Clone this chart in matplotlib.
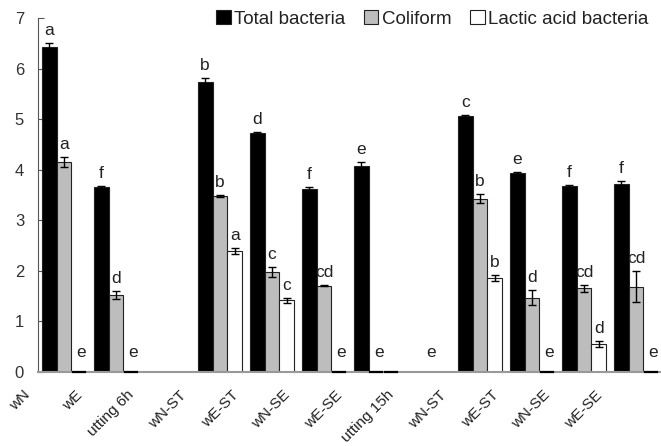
import numpy as np
import matplotlib.pyplot as plt
from matplotlib.patches import Patch

plt.rcParams["font.family"] = ["Liberation Sans", "DejaVu Sans"]

# category labels (cut off on the left in the source figure)
groups = ["wN", "wE", "utting 6h", "wN-ST", "wE-ST", "wN-SE", "wE-SE",
          "utting 15h", "wN-ST", "wE-ST", "wN-SE", "wE-SE"]

nan = np.nan
total = [6.43, 3.65, nan, 5.73, 4.73, 3.61, 4.07, nan, 5.07, 3.93, 3.67, 3.72]
total_err = [0.08, 0.02, 0, 0.09, 0.02, 0.05, 0.08, 0, 0.02, 0.02, 0.03, 0.05]
total_sig = ["a", "f", "", "b", "d", "f", "e", "", "c", "e", "f", "f"]

coliform = [4.15, 1.53, nan, 3.48, 1.98, 1.71, 0, nan, 3.43, 1.47, 1.66, 1.69]
coliform_err = [0.1, 0.08, 0, 0.02, 0.1, 0.01, 0, 0, 0.08, 0.15, 0.07, 0.3]
coliform_sig = ["a", "d", "", "b", "c", "cd", "e", "e", "b", "d", "cd", "cd"]

lab = [0, 0, nan, 2.4, 1.42, 0, 0, nan, 1.86, 0, 0.55, 0]
lab_err = [0, 0, 0, 0.06, 0.05, 0, 0, 0, 0.06, 0, 0.06, 0]
lab_sig = ["e", "e", "", "a", "c", "e", "", "", "b", "e", "d", "e"]

series = [
    ("Total bacteria", total, total_err, total_sig, "black"),
    ("Coliform", coliform, coliform_err, coliform_sig, "#bdbdbd"),
    ("Lactic acid bacteria", lab, lab_err, lab_sig, "white"),
]

fig = plt.figure(figsize=(6.61, 4.46), dpi=100)
ax = fig.add_axes([38 / 661, 74 / 446, 624 / 661, 354 / 446])

x = np.arange(len(groups))
w = 0.285
for i, (name, vals, errs, sigs, col) in enumerate(series):
    pos = x + (i - 1) * w
    vals = np.array(vals, dtype=float)
    ax.bar(pos, vals, w, color=col, edgecolor="#222222", linewidth=0.8, zorder=2)
    ok = ~np.isnan(vals) & (vals > 0)
    ax.errorbar(pos[ok], vals[ok], yerr=np.array(errs)[ok], fmt="none",
                ecolor="black", elinewidth=1, capsize=3, capthick=1, zorder=3)
    for p, v, e, s in zip(pos, vals, errs, sigs):
        if not s:
            continue
        v = 0 if np.isnan(v) else v
        off = 5 if v > 0 else 12
        ax.annotate(s, xy=(p + (0.05 if v == 0 else 0), v + e), xytext=(0, off),
                    textcoords="offset pixels", ha="center", va="bottom",
                    fontsize=12.5, color="#222222")

# short dashes where zero-height bars sit on the axis
for vals, i in ((coliform, 1), (lab, 2)):
    for k, v in enumerate(vals):
        if v == 0:
            p = k + (i - 1) * w
            ax.plot([p - w / 2 + 0.03, p + w / 2 - 0.03], [0, 0], color="black",
                    lw=1.6, zorder=4, clip_on=False)

ax.set_xlim(-0.5, len(groups) - 0.5)
ax.set_ylim(0, 7)
ax.set_yticks(range(8))
ax.tick_params(axis="y", direction="in", length=4, color="#555555",
               labelsize=12, labelcolor="#333333", pad=10)
ax.set_xticks([])
for k, g in enumerate(groups):
    ax.annotate(g, xy=(k, 0), xycoords=("data", "axes fraction"),
                xytext=(-31, -16), textcoords="offset pixels",
                ha="right", va="top", rotation=45, fontsize=11,
                color="#222222", annotation_clip=False)

ax.spines["top"].set_visible(False)
ax.spines["right"].set_visible(False)
ax.spines["left"].set_color("#555555")
ax.spines["bottom"].set_color("#999999")
ax.spines["bottom"].set_linewidth(1.5)

handles = [Patch(facecolor=c, edgecolor="#222222", linewidth=0.8, label=n)
           for n, _, _, _, c in series]
fig.legend(handles=handles, loc="center right", ncol=3, frameon=False,
           bbox_to_anchor=(658 / 661, 1 - 19 / 446), fontsize=13.5,
           handlelength=0.75, handleheight=0.75, handletextpad=0.2,
           columnspacing=1.0, borderpad=0, labelcolor="#222222")

fig.savefig("out.png", dpi=100)
